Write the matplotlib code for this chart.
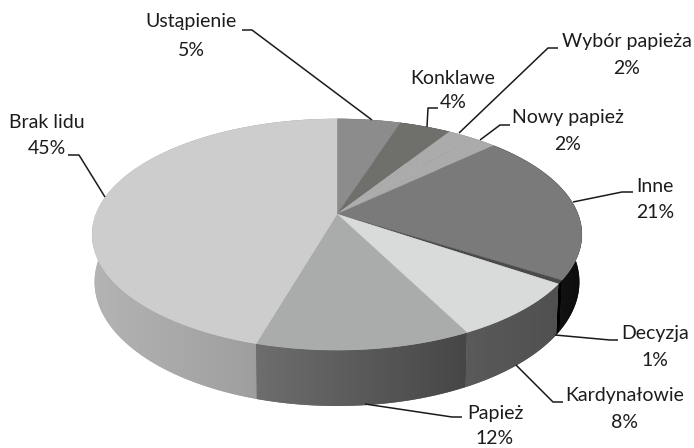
import numpy as np
import matplotlib
matplotlib.use("Agg")
import matplotlib.pyplot as plt
from matplotlib.patches import Polygon

categories = ["Ustąpienie", "Konklawe", "Wybór papieża", "Nowy papież", "Inne",
              "Decyzja", "Kardynałowie", "Papież", "Brak lidu"]
shares = [5, 4, 2, 2, 21, 0.5, 8, 12, 45.5]
percent_labels = ["5%", "4%", "2%", "2%", "21%", "1%", "8%", "12%", "45%"]

top_colors = ["#8c8c8c", "#6f6f6b", "#ababab", "#ababab", "#7a7a7a",
              "#4a4a4a", "#d9dbdb", "#a9acab", "#cdcdcd"]
# side wall colours at the right and left end of each slice
side_right = ["#777777", "#555555", "#888888", "#888888", "#0c0c0c",
              "#000000", "#505050", "#464646", "#949494"]
side_left = ["#777777", "#555555", "#888888", "#888888", "#222222",
             "#000000", "#5a5a5a", "#6e6e6e", "#b4b4b4"]

CX, CY, RX, RY, K, DEPTH = 337, 214, 241, 112, 0.177, 46


def project(theta, lower=False):
    u, v = np.sin(theta), -np.cos(theta)
    w = 1 / (1 - K * v)
    x = CX + RX * u * w * (0.99 if lower else 1)
    y = CY + RY * v * w + (DEPTH * w if lower else 0)
    return x, y


fig = plt.figure(figsize=(6.94, 4.48), dpi=100)
ax = fig.add_axes([0, 0, 1, 1])
ax.axis("off")

edges = np.cumsum([0] + shares) / sum(shares) * 2 * np.pi

# side wall: a horizontal gradient clipped to each slice's wall
order = np.argsort([np.mean(project(np.linspace(edges[i], edges[i + 1], 40))[1]) for i in range(len(shares))])
for rank, i in enumerate(order):
    th = np.linspace(edges[i], edges[i + 1], 200)
    xu, yu = project(th)
    xl, yl = project(th[::-1], True)
    pts = list(zip(xu, yu)) + list(zip(xl, yl))
    poly = Polygon(pts, closed=True, fc=side_left[i], ec="none", zorder=2 + 0.01 * rank)
    ax.add_patch(poly)
    x0, x1 = min(min(xu), min(xl)), max(max(xu), max(xl))
    y0, y1 = min(min(yu), min(yl)), max(max(yu), max(yl))
    c0 = np.array(matplotlib.colors.to_rgb(side_left[i]))
    c1 = np.array(matplotlib.colors.to_rgb(side_right[i]))
    t = np.linspace(0, 1, 256)[None, :, None]
    img = c0[None, None, :] * (1 - t) + c1[None, None, :] * t
    im = ax.imshow(img, extent=(x0 - 1, x1 + 1, y1 + 1, y0 - 1), aspect="auto",
                   zorder=2.005 + 0.01 * rank, interpolation="bilinear")
    im.set_clip_path(poly)

# top face
for i in range(len(shares)):
    th = np.linspace(edges[i], edges[i + 1], 200)
    xs, ys = project(th)
    pts = [(CX, CY)] + list(zip(xs, ys))
    ax.add_patch(Polygon(pts, closed=True, fc=top_colors[i], ec=top_colors[i], lw=0.3, zorder=3))

ax.set_xlim(0, 694)
ax.set_ylim(448, 0)

# labels: name line, percent line centres
label_pos = [(191, 22, 50), (453, 79, 103), (627, 42, 69), (568, 118, 145), (655, 187, 213),
             (655, 333, 361), (625, 395, 423), (495, 414, 439), (47, 122, 149)]
for name, pct, (x, y1, y2) in zip(categories, percent_labels, label_pos):
    ax.text(x, y1, name, ha="center", va="center", fontsize=14, family="Lato", color="#1c1c1c", zorder=5)
    ax.text(x, y2, pct, ha="center", va="center", fontsize=14, family="Lato", color="#1c1c1c", zorder=5)

leaders = [
    [(242, 30), (252, 30), (372, 120)],
    [(438, 108), (428, 108), (427, 127)],
    [(558, 48), (548, 48), (459, 133)],
    [(510, 125), (500, 125), (480, 140)],
    [(573, 202), (622, 192), (633, 192)],
    [(555, 335), (610, 340), (618, 340)],
    [(516, 365), (553, 402), (563, 402)],
    [(365, 404), (452, 417), (462, 417)],
    [(68, 155), (79, 155), (105, 197)],
]
for line in leaders:
    xs, ys = zip(*line)
    ax.plot(xs, ys, color="#1a1a1a", lw=1.1, zorder=4, solid_capstyle="butt")

fig.savefig("out.png", dpi=100)
